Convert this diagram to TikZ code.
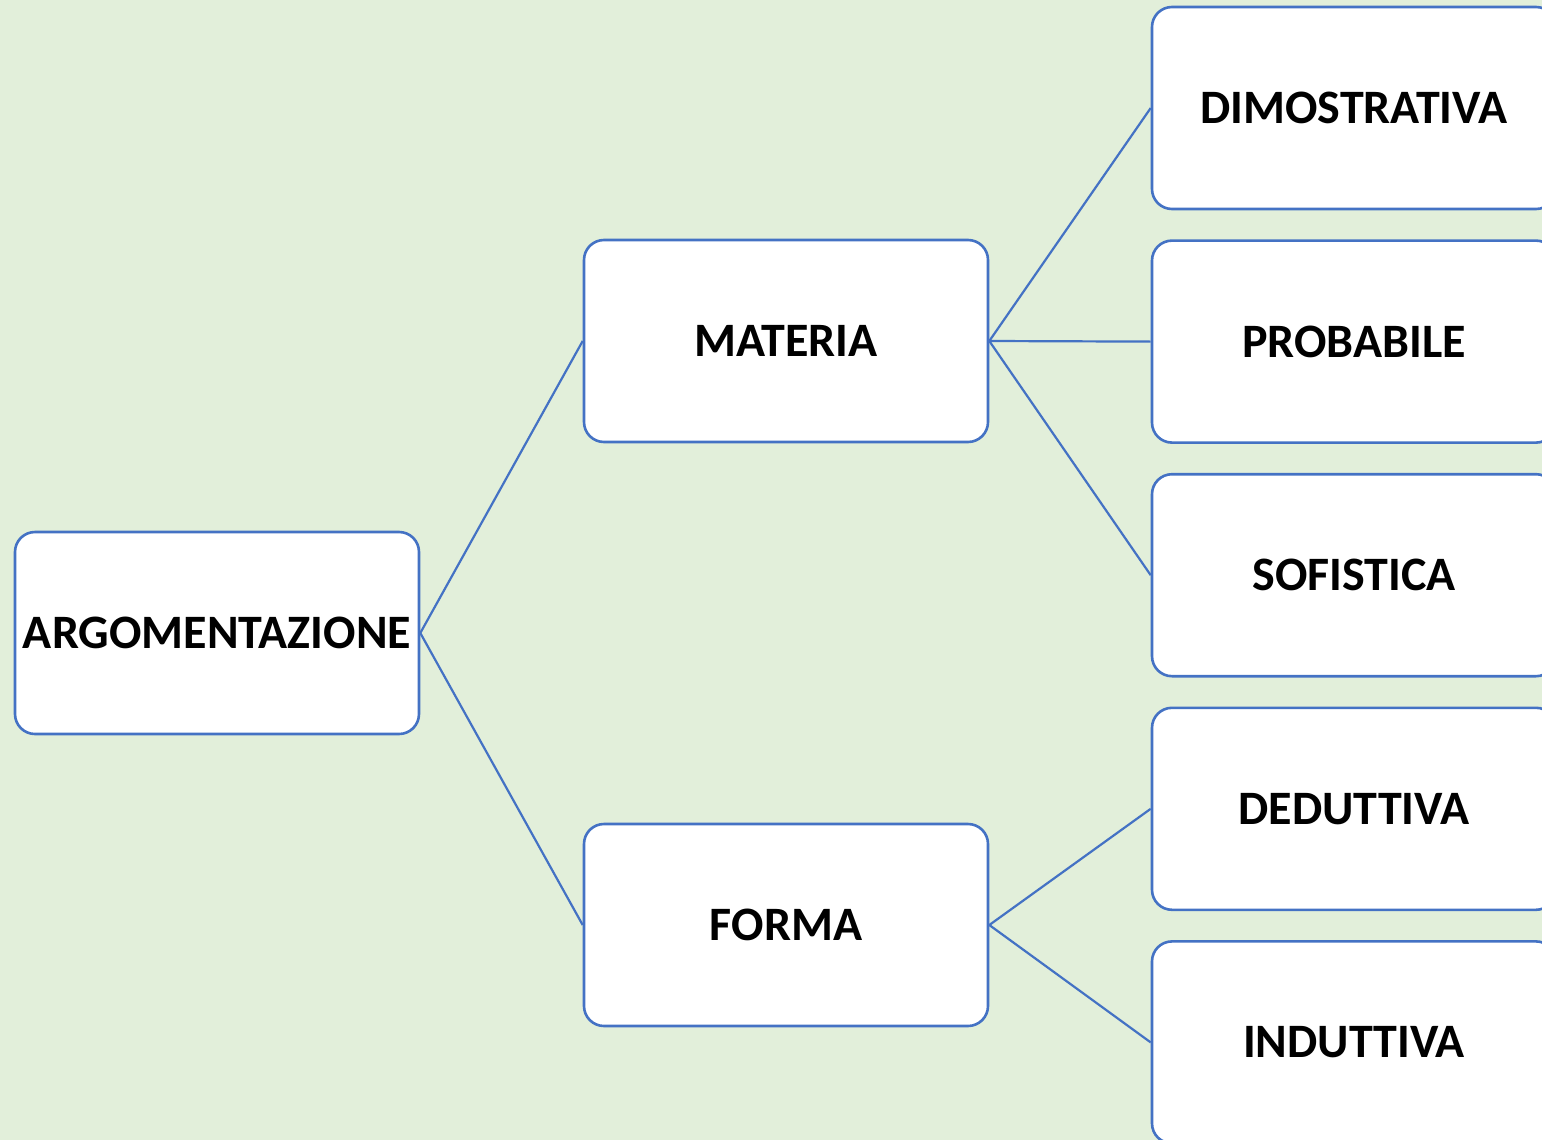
\documentclass[tikz,border=0pt]{standalone}
\usepackage{fontspec}
\setmainfont{Carlito}
\usepackage{xcolor}
\usetikzlibrary{positioning}
\definecolor{edgec}{HTML}{4472C4}
\definecolor{pagebg}{HTML}{E2EFDA}
\tikzset{
  ln/.style={edgec,line width=1.1pt},
  box/.style={draw=edgec,line width=1.3pt,rounded corners=10pt,fill=white,
    minimum width=202pt,minimum height=101pt,inner sep=0pt,
    font=\fontsize{24}{29}\selectfont\bfseries}
}
\begin{document}
\begin{tikzpicture}[x=0.5pt,y=-0.5pt]
\useasboundingbox (0,0) rectangle (1542,1140);
\clip (0,0) rectangle (1542,1140);
\fill[pagebg] (0,0) rectangle (1542,1140);
% left and middle column
\node[box] (arg) at (217,633) {ARGOMENTAZIONE};
\node[box] (mat) at (786,341) {MATERIA};
\node[box] (for) at (786,925) {FORMA};
% right column
\node[box] (dim) at (1354,108) {DIMOSTRATIVA};
\node[box,below=14.5pt of dim] (pro) {PROBABILE};
\node[box,below=14.5pt of pro] (sof) {SOFISTICA};
\node[box,below=14.5pt of sof] (ded) {DEDUTTIVA};
\node[box,below=14.5pt of ded] (ind) {INDUTTIVA};
% connectors
\draw[ln] (arg.east)--(mat.west);
\draw[ln] (arg.east)--(for.west);
\foreach \t in {dim,pro,sof}{\draw[ln] (mat.east)--(\t.west);}
\foreach \t in {ded,ind}{\draw[ln] (for.east)--(\t.west);}
\end{tikzpicture}
\end{document}
